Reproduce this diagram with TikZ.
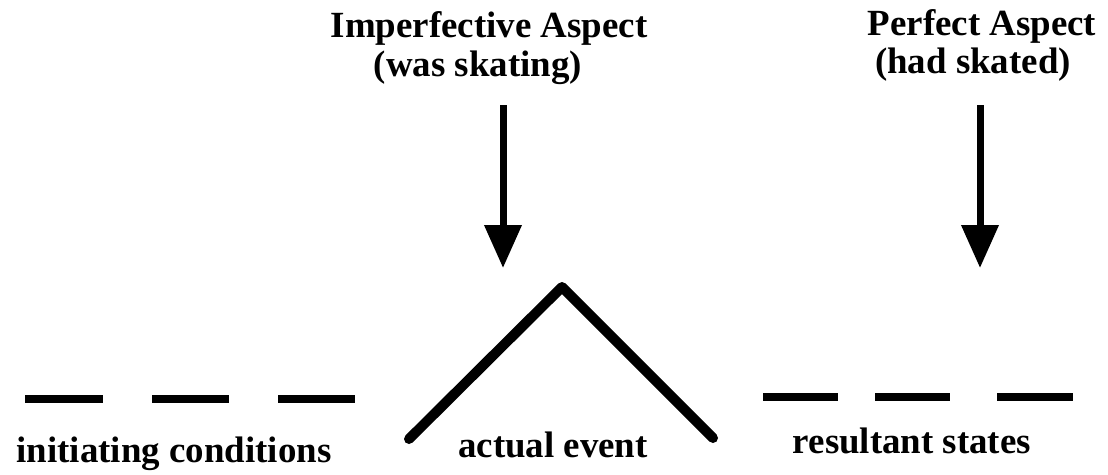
\documentclass[tikz,border=0pt]{standalone}
\usepackage{fontspec}
\setmainfont{Liberation Serif}
\usetikzlibrary{arrows.meta}

\begin{document}
\begin{tikzpicture}[x=0.02cm,y=-0.02cm,
  lbl/.style={font=\bfseries\fontsize{21}{25}\selectfont, inner sep=0pt, anchor=base},
  aspectarrow/.style={line width=0.14cm, -{Triangle[width=0.72cm,length=0.86cm]}},
  dashline/.style={line width=0.16cm},
  eventline/.style={line width=0.2cm, line cap=round, line join=round}]

\useasboundingbox (0,0) rectangle (1108,474);

% Labels above: the two aspects
\node[lbl] (imp) at (489,37) {Imperfective Aspect};
\node[lbl] (impex) at (478,76) {(was skating)};
\node[lbl] (perf) at (982,35) {Perfect Aspect};
\node[lbl] (perfex) at (973,73) {(had skated)};

% Arrows pointing down
\coordinate (impTop) at (503,105); \coordinate (impTip) at (503,268);
\coordinate (perfTop) at (980,105); \coordinate (perfTip) at (980,268);
\draw[aspectarrow] (impTop) -- (impTip);
\draw[aspectarrow] (perfTop) -- (perfTip);

% Initiating conditions (dashes, left)
\foreach \a/\b in {25/103,152/229,278/355}
  \draw[dashline] (\a,399) -- (\b,399);
\node[lbl] (init) at (174,462) {initiating conditions};

% Actual event (peak)
\coordinate (evL) at (409,439); \coordinate (evTop) at (562,287); \coordinate (evR) at (713,438);
\draw[eventline] (evL) -- (evTop) -- (evR);
\node[lbl] (event) at (553,457) {actual event};

% Resultant states (dashes, right)
\foreach \a/\b in {763/838,875/950,997/1073}
  \draw[dashline] (\a,397) -- (\b,397);
\node[lbl] (result) at (912,453) {resultant states};

\end{tikzpicture}
\end{document}
